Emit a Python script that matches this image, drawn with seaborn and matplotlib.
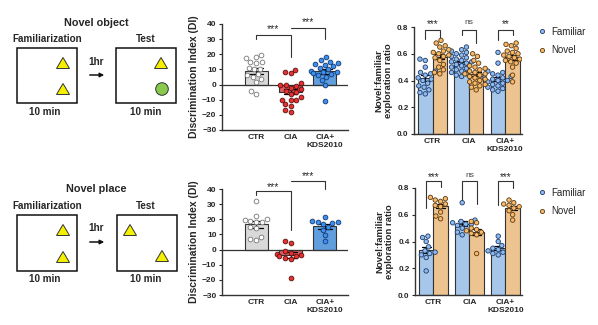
import numpy as np
import pandas as pd
import matplotlib
matplotlib.use("Agg")
import matplotlib.pyplot as plt
import seaborn as sns
from matplotlib.patches import Rectangle, Polygon, Circle, FancyArrowPatch
from matplotlib.lines import Line2D

# ---------------- data ----------------
groups = ["CTR", "CIA", "CIA+\nKDS2010"]
conds = ["Familiar", "Novel"]

# Novel object – discrimination index
obj_di_ctr = [15, 18, 19.5, 17.5, 14, 15, 11, 10, 10.5, 6, 5, 7, 4, 2, -4, -6]
obj_di_cia = [8, 9.5, 7.5, 1, 0, 0, -1, -2, -3, -4, -5, -6, -8, -10, -10, -10, -13, -14, -17, -18]
obj_di_kds = [18, 16, 15, 14, 13, 12, 11, 10, 9, 8, 7.5, 7, 6, 5, 3, 0, -11, 13.5, 8.5]

# Novel place – discrimination index
plc_di_ctr = [32, 22, 20, 19.5, 19, 18.5, 18, 15, 14, 8, 7, 6.5]
plc_di_cia = [5.5, 4.5, -1, -2, -3, -3.5, -4, -4.5, -5.5, -6, -19]
plc_di_kds = [21.5, 19, 18.5, 18, 17.5, 17, 15, 13, 9.5, 5.5]

# Novel object – exploration ratio
obj_fam_ctr = [0.56, 0.55, 0.50, 0.46, 0.45, 0.44, 0.42, 0.41, 0.40, 0.38, 0.36, 0.35, 0.33, 0.31, 0.30, 0.47]
obj_nov_ctr = [0.70, 0.68, 0.66, 0.65, 0.63, 0.62, 0.61, 0.60, 0.59, 0.58, 0.57, 0.55, 0.52, 0.50, 0.48, 0.46, 0.45]
obj_fam_cia = [0.65, 0.63, 0.62, 0.61, 0.60, 0.59, 0.58, 0.57, 0.56, 0.55, 0.54, 0.54, 0.53, 0.52, 0.51, 0.50, 0.49, 0.48, 0.47, 0.46, 0.45, 0.44, 0.43]
obj_nov_cia = [0.60, 0.58, 0.55, 0.53, 0.51, 0.50, 0.49, 0.48, 0.47, 0.46, 0.45, 0.45, 0.44, 0.43, 0.42, 0.41, 0.40, 0.39, 0.38, 0.37, 0.36, 0.35, 0.33]
obj_fam_kds = [0.61, 0.53, 0.47, 0.46, 0.45, 0.44, 0.43, 0.42, 0.42, 0.41, 0.40, 0.40, 0.39, 0.38, 0.37, 0.36, 0.35, 0.34, 0.33, 0.32]
obj_nov_kds = [0.68, 0.67, 0.66, 0.64, 0.62, 0.61, 0.60, 0.59, 0.58, 0.57, 0.56, 0.55, 0.54, 0.53, 0.50, 0.44, 0.39]

# Novel place – exploration ratio
plc_fam_ctr = [0.44, 0.43, 0.40, 0.36, 0.33, 0.32, 0.31, 0.30, 0.28, 0.18]
plc_nov_ctr = [0.73, 0.72, 0.71, 0.70, 0.68, 0.67, 0.66, 0.62, 0.59, 0.57]
plc_fam_cia = [0.69, 0.56, 0.55, 0.54, 0.53, 0.53, 0.52, 0.50, 0.47, 0.45]
plc_nov_cia = [0.55, 0.54, 0.50, 0.49, 0.48, 0.47, 0.46, 0.45, 0.31]
plc_fam_kds = [0.44, 0.40, 0.37, 0.35, 0.34, 0.33, 0.32, 0.31, 0.30]
plc_nov_kds = [0.71, 0.69, 0.68, 0.67, 0.66, 0.65, 0.63, 0.60, 0.56]

di_stars = ["***", "***"]
ratio_stars_obj = ["***", "ns", "**"]
ratio_stars_plc = ["***", "ns", "***"]

# ---------------- style ----------------
sns.set_theme(style="ticks")
plt.rcParams["font.family"] = ["Liberation Sans", "DejaVu Sans"]
plt.rcParams["axes.linewidth"] = 1.0
plt.rcParams["axes.edgecolor"] = "#333333"

W, H = 598, 325
fig = plt.figure(figsize=(W / 100, H / 100), dpi=100)

def px_axes(l, t, r, b):
    return fig.add_axes([l / W, 1 - b / H, (r - l) / W, (b - t) / H])

DARK = "#333333"
di_bar_col = {groups[0]: "#d9d9d9", groups[1]: "#f24a4a", groups[2]: "#4c9ef2"}
di_pt_fill = {groups[0]: "#ffffff", groups[1]: "#e83030", groups[2]: "#3d8ff0"}
di_pt_edge = {groups[0]: "#777777", groups[1]: "#5a1010", groups[2]: "#123a70"}
r_bar_col = {"Familiar": "#9cc6f5", "Novel": "#fcc481"}
r_pt_fill = {"Familiar": "#8dbcf2", "Novel": "#f8b96a"}
r_pt_edge = {"Familiar": "#1f3a66", "Novel": "#5a3a10"}

# ---------------- schematic ----------------
ax0 = fig.add_axes([0, 0, 200 / W, 1])
ax0.set_xlim(0, 200)
ax0.set_ylim(325, 0)
ax0.axis("off")

def tri(cx, cy):
    ax0.add_patch(Polygon([(cx - 6.5, cy + 5.5), (cx + 6.5, cy + 5.5), (cx, cy - 5.5)],
                          closed=True, fc="#f5ef00", ec="#333333", lw=0.7))

def schematic(title, ty, fy, by0, by1, box2x, hy, ay, my, test_items):
    ax0.text(96, ty, title, ha="center", va="center", fontsize=7.8, fontweight="bold")
    ax0.text(47, fy, "Familiarization", ha="center", va="center", fontsize=7.1, fontweight="bold")
    ax0.text(146, fy, "Test", ha="center", va="center", fontsize=7.1, fontweight="bold")
    ax0.add_patch(Rectangle((17, by0), 60, by1 - by0, fill=False, ec="#111111", lw=1.1))
    ax0.add_patch(Rectangle((box2x, by0), 60, by1 - by0, fill=False, ec="#111111", lw=1.1))
    ax0.text(96, hy, "1hr", ha="center", va="center", fontsize=7.2, fontweight="bold")
    ax0.add_patch(FancyArrowPatch((87, ay), (107, ay), arrowstyle="-|>", mutation_scale=6,
                                  color="#111111", lw=1.1))
    ax0.text(45, my, "10 min", ha="center", va="center", fontsize=7.1, fontweight="bold")
    ax0.text(146, my, "10 min", ha="center", va="center", fontsize=7.1, fontweight="bold")
    tri(63, (by0 + 15))
    tri(63, (by1 - 14))
    for kind, cx, cy in test_items:
        if kind == "tri":
            tri(cx, cy)
        else:
            ax0.add_patch(Circle((cx, cy), 6.3, fc="#88c94e", ec="#333333", lw=0.7))

schematic("Novel object", 23, 39, 48, 103, 116, 62, 75, 112,
          [("tri", 161, 63), ("circ", 162, 89)])
schematic("Novel place", 189, 206, 215, 271, 117, 228, 242, 279,
          [("tri", 130, 230), ("tri", 162, 256)])

# ---------------- DI panels ----------------
def di_panel(box, ctr, cia, kds, brackets, star_pos):
    ax = px_axes(*box)
    df = pd.DataFrame({
        "group": [groups[0]] * len(ctr) + [groups[1]] * len(cia) + [groups[2]] * len(kds),
        "value": ctr + cia + kds,
    })
    sns.barplot(data=df, x="group", y="value", order=groups, hue="group", hue_order=groups,
                palette=di_bar_col, errorbar="se", capsize=0.4, width=0.67,
                err_kws={"color": "black", "linewidth": 0.9}, edgecolor=DARK, linewidth=0.8,
                legend=False, ax=ax)
    for g in groups:
        sns.swarmplot(data=df[df.group == g], x="group", y="value", order=groups,
                      color=di_pt_fill[g], edgecolor=di_pt_edge[g], linewidth=0.6, size=3.4,
                      ax=ax, warn_thresh=1)
    ax.axhline(0, color=DARK, lw=0.9, zorder=1.5)
    ax.set_ylim(-30, 40)
    ax.set_xlim(-0.99, 2.67)
    ax.set_yticks(range(-30, 41, 10))
    ax.set_xlabel("")
    ax.set_ylabel("Discrimination Index (DI)", fontsize=7.5, fontweight="bold", labelpad=2)
    ax.tick_params(axis="y", labelsize=6, length=2.5, width=0.8, pad=1.5)
    ax.tick_params(axis="x", labelsize=6, length=0, pad=3)
    for lab in ax.get_xticklabels() + ax.get_yticklabels():
        lab.set_fontweight("bold")
    sns.despine(ax=ax)
    for (x0, x1, yl, yt, yr), s, (sx, sy) in zip(brackets, di_stars, star_pos):
        ax.plot([x0, x0, x1, x1], [yl, yt, yt, yr], color=DARK, lw=0.8, clip_on=False)
        ax.text(sx, sy, s, ha="center", va="center", fontsize=7.5, clip_on=False)
    return ax

di_panel((222, 24, 348, 130), obj_di_ctr, obj_di_cia, obj_di_kds,
         [(0, 1, 30, 33, 18.5), (1, 2, 37.5, 37.5, 30)],
         [(0.5, 36.5), (1.5, 41)])
di_panel((222, 189, 348, 295), plc_di_ctr, plc_di_cia, plc_di_kds,
         [(0, 1, 36, 38.8, 13), (1, 2, 45, 45, 40)],
         [(0.5, 41), (1.5, 48.5)])

# ---------------- ratio panels ----------------
def ratio_panel(box, fam, nov, stars, brackets, star_y, legend_y):
    ax = px_axes(*box)
    rows = []
    for gi, g in enumerate(groups):
        for v in fam[gi]:
            rows.append((g, "Familiar", v))
        for v in nov[gi]:
            rows.append((g, "Novel", v))
    df = pd.DataFrame(rows, columns=["group", "cond", "value"])
    sns.barplot(data=df, x="group", y="value", order=groups, hue="cond", hue_order=conds,
                palette=r_bar_col, errorbar="se", capsize=0.5, width=0.8, gap=0,
                err_kws={"color": "black", "linewidth": 0.9}, edgecolor=DARK, linewidth=0.8,
                legend=False, ax=ax)
    for c in conds:
        sns.swarmplot(data=df[df.cond == c], x="group", y="value", order=groups,
                      hue="cond", hue_order=conds, dodge=True, palette=r_pt_fill,
                      edgecolor=r_pt_edge[c], linewidth=0.6, size=3.2, legend=False,
                      ax=ax, warn_thresh=1)
    ax.set_ylim(0, 0.8)
    ax.set_xlim(-0.51, 2.46)
    ax.set_yticks([0, 0.2, 0.4, 0.6, 0.8])
    ax.set_yticklabels(["0.0", "0.2", "0.4", "0.6", "0.8"])
    ax.set_xlabel("")
    ax.set_ylabel("Novel:familiar\nexploration ratio", fontsize=6.8, fontweight="bold",
                  labelpad=3, linespacing=1.1)
    ax.tick_params(axis="y", labelsize=5.8, length=2.5, width=0.8, pad=1.5)
    ax.tick_params(axis="x", labelsize=6, length=0, pad=3)
    for lab in ax.get_xticklabels() + ax.get_yticklabels():
        lab.set_fontweight("bold")
    sns.despine(ax=ax)
    for gi, (s, (yl, yt, yr)) in enumerate(zip(stars, brackets)):
        x0, x1 = gi - 0.2, gi + 0.2
        ax.plot([x0, x0, x1, x1], [yl, yt, yt, yr], color=DARK, lw=0.8, clip_on=False)
        if s == "ns":
            ax.text(gi, star_y + 0.01, s, ha="center", va="center", fontsize=6,
                    color="#444444", clip_on=False)
        else:
            ax.text(gi, star_y, s, ha="center", va="center", fontsize=7.2, clip_on=False)
    handles = [Line2D([], [], marker="o", linestyle="none", markersize=3.0,
                      markerfacecolor=r_pt_fill[c], markeredgecolor=r_pt_edge[c],
                      markeredgewidth=0.6) for c in conds]
    ax.legend(handles, conds, loc="center left", bbox_to_anchor=(532 / W, 1 - legend_y / H),
              bbox_transform=fig.transFigure, frameon=False, fontsize=7,
              handletextpad=0.5, labelspacing=0.9, handlelength=1.0, borderpad=0)
    return ax

ratio_panel((414, 27, 522, 134),
            [obj_fam_ctr, obj_fam_cia, obj_fam_kds], [obj_nov_ctr, obj_nov_cia, obj_nov_kds],
            ratio_stars_obj, [(0.71, 0.78, 0.72), (0.74, 0.78, 0.68), (0.70, 0.78, 0.74)],
            0.82, 41)
ratio_panel((415, 188, 522, 295),
            [plc_fam_ctr, plc_fam_cia, plc_fam_kds], [plc_nov_ctr, plc_nov_cia, plc_nov_kds],
            ratio_stars_plc, [(0.65, 0.85, 0.81), (0.71, 0.85, 0.68), (0.67, 0.85, 0.80)],
            0.885, 202)

fig.savefig("out.png", dpi=100)
